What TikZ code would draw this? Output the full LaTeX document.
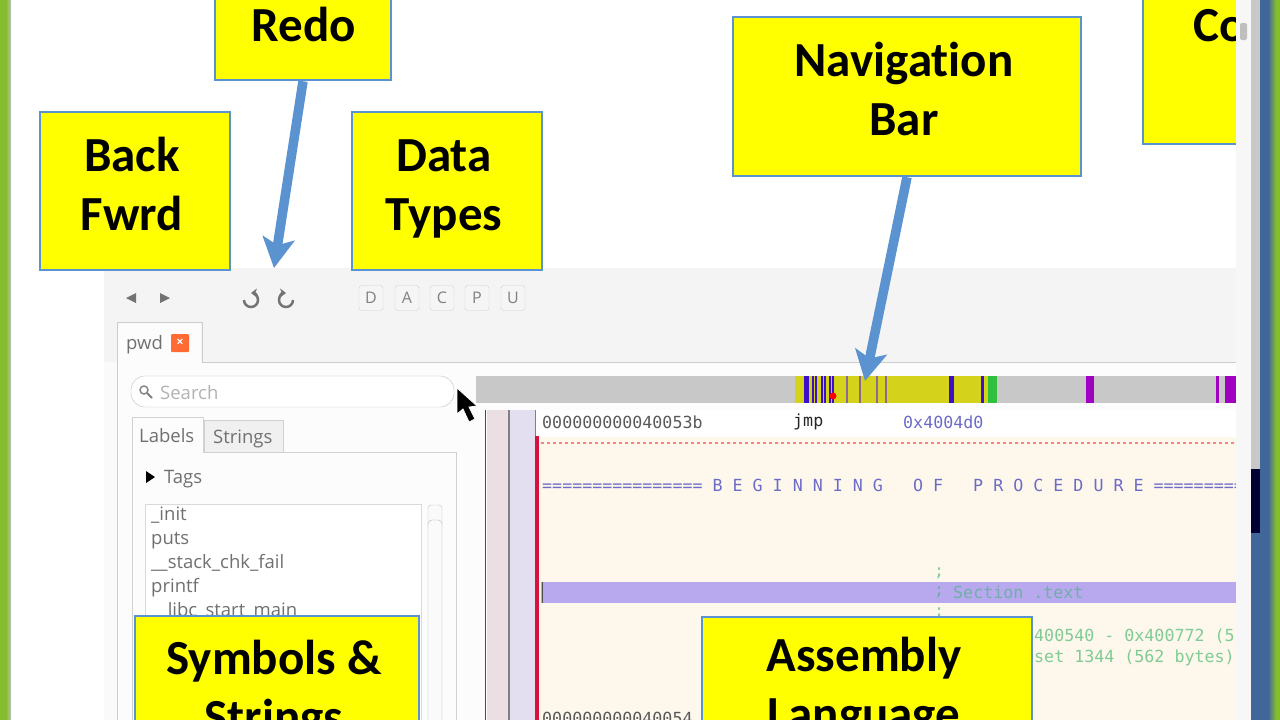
\documentclass[tikz,border=0pt]{standalone}
\usepackage{fontspec}
\usetikzlibrary{arrows.meta}
\setmainfont{Open Sans}
\newfontfamily\calloutfont{Carlito}[BoldFont={Carlito Bold}, Ligatures=NoCommon]
\newfontfamily\codefont{DejaVu Sans Mono}
\definecolor{calloutyellow}{HTML}{FFFF00}
\definecolor{calloutblue}{HTML}{5B93D0}
\definecolor{panelgray}{HTML}{F5F4F4}
\definecolor{uitext}{HTML}{707070}
\definecolor{codebg}{HTML}{FDF7EC}
\definecolor{navgray}{HTML}{C8C8C8}
\definecolor{navyellow}{HTML}{D4D21A}
\definecolor{navblue}{HTML}{3A10C8}
\definecolor{navmauve}{HTML}{8A6A90}
\definecolor{navpurple}{HTML}{A000C0}
\definecolor{navgreen}{HTML}{30C040}
\definecolor{codeblue}{HTML}{6C6CC8}
\definecolor{codegreen}{HTML}{80CC94}
\definecolor{sectionbar}{HTML}{B8A9EE}
\definecolor{sectiontext}{HTML}{70AEA8}
\definecolor{rowpink}{HTML}{EBDFE3}
\definecolor{rowlilac}{HTML}{E3DEF0}
\definecolor{barred}{HTML}{D8103C}
\definecolor{deskblue}{HTML}{41669A}
\definecolor{deskgreen}{HTML}{84BE2E}
\tikzset{
    callout/.style={draw=calloutblue, line width=2.5pt, fill=calloutyellow, inner sep=0pt},
    calloutlabel/.style={align=center, inner sep=0pt, font=\calloutfont\bfseries\fontsize{49}{59}\selectfont},
    pointer/.style={draw=calloutblue, line width=9.5pt, -{Stealth[length=30pt,width=32pt,inset=7pt]}},
    uilabel/.style={inner sep=0pt, text=uitext, anchor=west, text height=13pt, text depth=0pt, font=\fontsize{18.5}{20}\selectfont},
    codetext/.style={inner sep=0pt, anchor=west, font=\codefont\fontsize{16.65}{18}\selectfont},
    keybox/.style={draw=black!18, fill=black!4, rounded corners=3pt, minimum width=24pt, minimum height=25pt,
        inner sep=0pt, text=black!50, font=\fontsize{16}{17}\selectfont}
}
\begin{document}
\begin{tikzpicture}[x=1pt, y=-1pt]
    \useasboundingbox (0,0) rectangle (1280,720);
    \clip (0,0) rectangle (1280,720);

    % Desktop
    \fill[white] (0,0) rectangle (1280,720);
    \fill[deskgreen] (0,0) rectangle (6,720);
    \shade[left color=deskgreen, right color=black!25] (6,0) rectangle (11,720);

    % Window
    \fill[panelgray] (104,268) rectangle (1236,362);
    \fill[black!2] (104,362) rectangle (1236,720);
    \fill[black!1] (117,362) rectangle (1236,720);
    \draw[black!20] (117,720) -- (117,322) -- (202,322) -- (202,362) -- (1236,362);
    \fill[black!1] (118,323) rectangle (201,364);

    % Toolbar
    \fill[black!55] (126,298) -- (136,293) -- (136,303) -- cycle;
    \fill[black!55] (170,298) -- (160,293) -- (160,303) -- cycle;
    \draw[black!55, line width=2.5pt, -{Stealth[length=6pt,width=9pt]}] (244,300) arc[start angle=180, end angle=-90, radius=7];
    \draw[black!55, line width=2.5pt, -{Stealth[length=6pt,width=9pt]}] (293,300) arc[start angle=0, end angle=270, radius=7];
    \foreach \l/\x in {D/371,A/407,C/442,P/477,U/513}
        \node[keybox] (key\l) at (\x,298) {\l};

    % Tab
    \node[uilabel] (pwdTab) at (126,343) {pwd};
    \node[fill=red!45!orange!80!white, rounded corners=1pt, minimum size=18pt, inner sep=0pt, text=white, font=\bfseries\fontsize{13}{13}\selectfont] (pwdClose) at (180,343) {×};

    % Search
    \draw[black!25, fill=white, rounded corners=14pt] (131,376) rectangle (454,407);
    \draw[black!50, line width=1.4pt] (144,390) circle (4);
    \draw[black!50, line width=2pt] (147,393) -- (152,398);
    \node[uilabel, text=black!30] (searchText) at (160,393) {Search};

    % Labels / Strings
    \draw[black!18] (132,720) -- (132,452) -- (456,452) -- (456,720);
    \draw[black!18, fill=black!6] (204,420) rectangle (283,452);
    \draw[black!18, fill=black!1] (132,453) -- (132,417) -- (203,417) -- (203,453);
    \node[uilabel] (labelsTab) at (139,436) {Labels};
    \node[uilabel] (stringsTab) at (213,437) {Strings};
    \fill[black] (146,471) -- (155,477) -- (146,483) -- cycle;
    \node[uilabel] (tagsRow) at (164,477) {Tags};

    % Symbols
    \draw[black!15, fill=white] (145,504) rectangle (421,720);
    \draw[black!25, fill=black!2, rounded corners=3pt] (428,505) rectangle (442,530);
    \draw[black!30, fill=black!2, rounded corners=4pt] (428,520) rectangle (442,730);
    \node[uilabel] (symInit) at (151,514) {\_init};
    \node[uilabel] (symPuts) at (151,538) {puts};
    \node[uilabel] (symFail) at (151,562) {\_\_stack\_chk\_fail};
    \node[uilabel] (symPrintf) at (151,586) {printf};
    \node[uilabel] (symMain) at (151,610) {\_\_libc\_start\_main};

    % Navigation bar
    \fill[navgray] (476,376) rectangle (1236,403);
    \fill[navyellow] (795,376) rectangle (988,403);
    \fill[navgreen] (988,376) rectangle (997,403);
    \foreach \x/\w in {804/5,812/2,815/2,821/2,824/2,829/2,832/2,949/4.5,981/2.5}
        \fill[navblue] (\x,376) rectangle (\x+\w,403);
    \foreach \x in {846,859,876,885}
        \fill[navmauve] (\x,376) rectangle (\x+2,403);
    \foreach \x/\w in {1086/8,1216/3,1225/11}
        \fill[navpurple] (\x,376) rectangle (\x+\w,403);
    \fill[red] (833,396) circle (3.5);

    % Listing
    \fill[white] (485,410) rectangle (1236,720);
    \fill[codebg] (537,437) rectangle (1236,720);
    \fill[rowpink] (487,410) rectangle (508,720);
    \fill[rowlilac] (510,410) rectangle (535,720);
    \draw[black!70, line width=1.5pt] (485.5,410) -- (485.5,720);
    \draw[black!50, line width=1.5pt] (509,410) -- (509,720);
    \draw[black!50, line width=1.5pt] (535.5,410) -- (535.5,436);
    \fill[barred] (535,436) rectangle (539,720);
    \draw[red!50, dash pattern=on 3pt off 3pt, line width=1.2pt] (541,443) -- (1236,443);
    \node[codetext, text=black!65] (addrJmp) at (542,422) {000000000040053b};
    \node[codetext, text=black!85] (opJmp) at (793,422) {jmp};
    \node[codetext, text=codeblue] (argJmp) at (903,422) {0x4004d0};
    \node[codetext, text=codeblue] (procLine) at (542,485) {================ B~E~G~I~N~N~I~N~G~~~O~F~~~P~R~O~C~E~D~U~R~E =========};
    \fill[sectionbar] (541,582) rectangle (1236,603);
    \draw[black!70, line width=1pt] (542,582) -- (542,603);
    \node[codetext, text=codegreen] (semiA) at (934,573) {;};
    \node[codetext, text=sectiontext] (semiB) at (934,592) {;};
    \node[codetext, text=codegreen] (semiC) at (934,613) {;};
    \node[codetext, text=sectiontext] (sectionText) at (953,592) {Section .text};
    \node[codetext, text=codegreen] (rangeLine) at (1034,636) {400540 - 0x400772 (5};
    \node[codetext, text=codegreen] (sizeLine) at (1034,658) {set 1344 (562 bytes)};
    \node[codetext, text=black!65] (addrNext) at (542,718) {000000000040054};

    % Mouse
    \draw[white, fill=black, line width=.8pt] (457,388) -- (457,414) -- (463,409) -- (469,422) -- (475,419) -- (469,407) -- (477,406) -- cycle;

    % Callouts
    \node[callout, minimum width=176pt, minimum height=130pt] (redoBox) at (303,15) {};
    \node[callout, minimum width=190pt, minimum height=158pt] (backBox) at (135,191) {};
    \node[callout, minimum width=190pt, minimum height=158pt] (typesBox) at (447,191) {};
    \node[callout, minimum width=348pt, minimum height=159pt] (navBox) at (907,96.5) {};
    \node[callout, minimum width=284pt, minimum height=154pt] (symbolsBox) at (277,693) {};
    \node[callout, minimum width=330pt, minimum height=145pt] (asmBox) at (867,689.5) {};
    \node[callout, minimum width=200pt, minimum height=210pt] (coBox) at (1243,39) {};
    \node[calloutlabel] (redoText) at (304,30) {Redo\strut};
    \node[calloutlabel] (backText) at (132,189) {Back\strut\\Fwrd\strut};
    \node[calloutlabel] (typesText) at (444,189) {Data\strut\\Types\strut};
    \node[calloutlabel] (navText) at (904,94) {Navigation\strut\\Bar\strut};
    \node[calloutlabel] (symbolsText) at (274,692) {Symbols \&\strut\\Strings\strut};
    \node[calloutlabel] (asmText) at (864,689) {Assembly\strut\\Language\strut};
    \node[calloutlabel, anchor=west] (coText) at (1193,30) {Co\strut};

    % Scrollbar strip and desktop on the right
    \fill[black!3] (1236,0) rectangle (1251,720);
    \fill[black!25, rounded corners=2pt] (1240,23) rectangle (1247,40);
    \fill[navgray] (1251,0) rectangle (1260,469);
    \fill[black!80!blue] (1251,469) rectangle (1260,533);
    \fill[deskblue] (1251,533) rectangle (1260,720);
    \fill[deskblue] (1260,0) rectangle (1268,720);
    \shade[left color=deskblue, right color=deskgreen] (1268,0) rectangle (1276,720);
    \fill[deskgreen] (1276,0) rectangle (1280,720);

    % Arrows
    \coordinate (redoTip) at (274,268);
    \coordinate (navTip) at (865,381);
    \draw[pointer] (redoBox.south) -- (redoTip);
    \draw[pointer] (navBox.south) -- (navTip);
\end{tikzpicture}
\end{document}
